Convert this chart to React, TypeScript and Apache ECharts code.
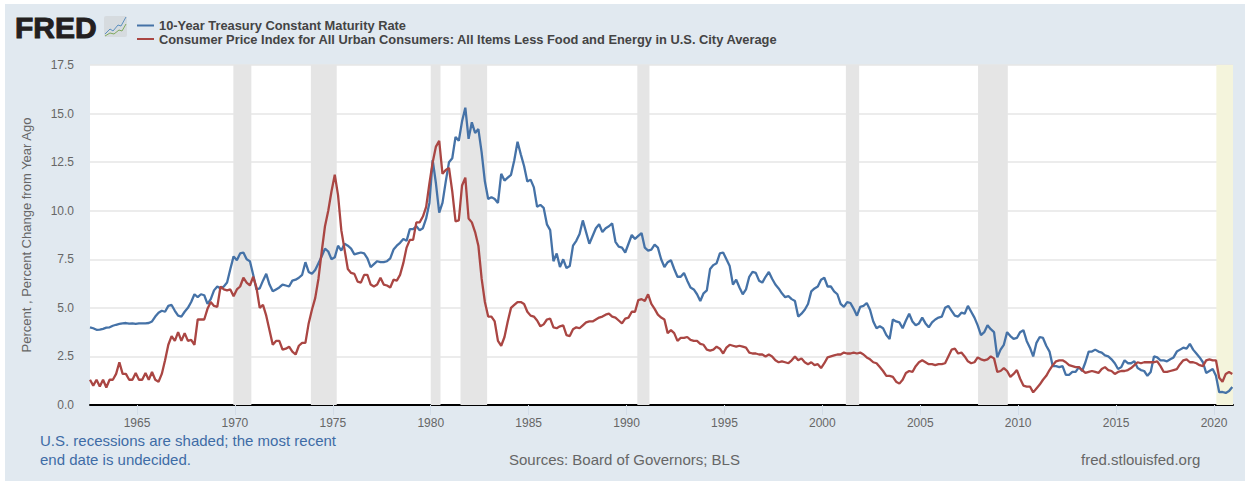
import React, { useEffect, useRef } from "react";
import * as echarts from "echarts";

const seriesStart = 1962.6;
const stepYears = 1 / 6;
const tickYears = [1965, 1970, 1975, 1980, 1985, 1990, 1995, 2000, 2005, 2010, 2015, 2020];

const treasury1960s = [
  4.0, 3.95, 3.87,
  3.88, 3.92, 3.98, 4.0, 4.08, 4.13,
  4.17, 4.2, 4.22, 4.19, 4.2, 4.18,
  4.2, 4.2, 4.2, 4.22, 4.3, 4.55,
  4.75, 4.85, 4.8, 5.1, 5.15, 4.85,
  4.6, 4.55, 4.8, 5.0, 5.3, 5.7,
  5.55, 5.7, 5.65, 5.2, 5.45, 5.9,
  6.1, 6.0, 6.1, 6.3, 7.0, 7.65,
];
const treasury1970s = [
  7.45, 7.8, 7.85, 7.5, 7.4, 6.7,
  5.95, 6.0, 6.4, 6.75, 6.2, 5.85,
  5.95, 6.05, 6.2, 6.15, 6.1, 6.4,
  6.45, 6.55, 6.7, 7.35, 6.85, 6.75,
  6.95, 7.3, 7.65, 8.05, 7.9, 7.5,
  7.6, 8.2, 7.95, 8.3, 8.2, 8.05,
  7.75, 7.8, 7.85, 7.8, 7.55, 7.1,
  7.25, 7.4, 7.35, 7.35, 7.4, 7.55,
  8.0, 8.2, 8.35, 8.55, 8.45, 9.05,
  9.05, 9.2, 9.0, 9.1, 9.6, 10.4,
];
const treasury1980s = [
  12.6, 11.4, 9.9, 10.4, 11.5, 12.5,
  12.7, 13.8, 13.6, 14.6, 15.3, 13.7,
  14.55, 14.0, 14.2, 13.0, 11.5, 10.6,
  10.7, 10.6, 10.4, 11.9, 11.55, 11.7,
  11.85, 12.6, 13.55, 12.9, 12.3, 11.5,
  11.6, 11.2, 10.2, 10.3, 10.15, 9.3,
  9.0, 7.4, 7.8, 7.1, 7.5, 7.05,
  7.15, 8.2, 8.45, 8.8, 9.5, 8.9,
  8.3, 8.7, 9.1, 9.3, 8.9, 9.1,
  9.2, 9.35, 8.4, 8.15, 8.1, 7.85,
];
const treasury1990s = [
  8.3, 8.75, 8.55, 8.7, 8.85, 8.1,
  7.95, 8.0, 8.25, 8.1, 7.5, 7.1,
  7.35, 7.45, 7.0, 6.6, 6.6, 6.8,
  6.4, 6.05, 5.95, 5.7, 5.35, 5.75,
  5.9, 7.0, 7.2, 7.3, 7.8, 7.85,
  7.5, 7.15, 6.2, 6.45, 6.05, 5.7,
  5.95, 6.6, 6.85, 6.8, 6.4, 6.3,
  6.6, 6.85, 6.5, 6.2, 6.0, 5.75,
  5.55, 5.6, 5.45, 5.35, 4.55, 4.7,
  4.9, 5.2, 5.85, 6.0, 6.1, 6.45,
];
const treasury2000s = [
  6.55, 6.1, 6.1, 5.85, 5.7, 5.2,
  5.05, 5.3, 5.25, 4.95, 4.6, 5.05,
  5.1, 5.25, 4.9, 4.3, 3.95, 4.05,
  3.95, 3.6, 3.4, 4.4, 4.3, 4.25,
  3.95, 4.35, 4.7, 4.3, 4.1, 4.2,
  4.5, 4.2, 4.0, 4.25, 4.4, 4.5,
  4.55, 5.0, 5.1, 4.85, 4.6, 4.55,
  4.75, 4.7, 5.1, 4.8, 4.5, 4.1,
  3.6, 3.75, 4.1, 3.9, 3.75, 2.45,
  2.85, 3.1, 3.75, 3.55, 3.4, 3.45,
];
const treasury2010s = [
  3.75, 3.85, 3.3, 2.95, 2.5, 3.2,
  3.5, 3.45, 3.05, 2.75, 2.0, 2.0,
  1.95, 2.0, 1.55, 1.55, 1.7, 1.7,
  1.95, 1.75, 2.2, 2.75, 2.75, 2.85,
  2.75, 2.7, 2.55, 2.5, 2.35, 2.15,
  1.85, 1.95, 2.3, 2.15, 2.15, 2.25,
  1.9, 1.8, 1.75, 1.5, 1.7, 2.5,
  2.45, 2.3, 2.3, 2.25, 2.35, 2.45,
  2.75, 2.85, 2.95, 2.9, 3.15, 2.85,
  2.65, 2.45, 2.2, 1.65, 1.75, 1.85,
  1.5, 0.66, 0.67, 0.62, 0.72, 0.93,
];

const cpi1960s = [
  1.3, 1.0, 1.3,
  0.95, 1.3, 0.9, 1.3, 1.3, 1.6,
  2.2, 1.6, 1.6, 1.3, 1.3, 1.65,
  1.3, 1.3, 1.65, 1.3, 1.7, 1.3,
  1.2, 1.6, 2.3, 3.1, 3.55, 3.3,
  3.75, 3.3, 3.7, 3.3, 3.35, 3.1,
  4.4, 4.4, 4.4, 4.95, 5.3, 5.1,
  5.05, 6.1, 5.95, 5.9, 5.95, 5.6,
];
const cpi1970s = [
  5.95, 6.1, 6.55, 6.3, 6.15, 6.6,
  6.05, 5.0, 5.15, 4.6, 3.85, 3.1,
  3.3, 3.3, 2.85, 2.9, 3.0, 2.75,
  2.6, 3.05, 3.2, 3.2, 4.2, 4.9,
  5.5, 6.5, 7.9, 9.2, 10.0, 11.0,
  11.85, 10.8, 9.0, 8.0, 7.0, 6.8,
  6.75, 6.35, 6.3, 6.7, 6.7, 6.2,
  6.1, 6.2, 6.55, 6.2, 6.15, 6.05,
  6.45, 6.4, 6.7, 7.3, 8.1, 8.5,
  8.5, 9.4, 9.4, 9.7, 10.2, 11.4,
];
const cpi1980s = [
  12.5, 13.3, 13.6, 11.9, 12.1, 12.2,
  11.0, 9.45, 9.5, 11.3, 11.7, 9.6,
  9.4, 8.9, 8.2, 6.5, 5.3, 4.55,
  4.55, 4.3, 3.3, 3.05, 3.5, 4.3,
  5.0, 5.15, 5.3, 5.3, 5.2, 4.8,
  4.6, 4.55, 4.35, 4.05, 4.15, 4.4,
  4.45, 4.0, 3.95, 4.05, 4.1, 3.6,
  3.55, 3.9, 4.0, 3.95, 4.1, 4.25,
  4.3, 4.3, 4.4, 4.5, 4.55, 4.65,
  4.7, 4.55, 4.5, 4.35, 4.2, 4.45,
];
const cpi1990s = [
  4.5, 4.8, 4.8, 5.4, 5.45, 5.35,
  5.7, 5.2, 4.95, 4.65, 4.5, 4.4,
  3.7, 3.85, 3.7, 3.3, 3.45, 3.45,
  3.5, 3.35, 3.3, 3.3, 3.15, 3.1,
  2.85, 2.8, 2.85, 3.0, 2.9, 2.65,
  2.95, 3.1, 3.05, 3.0, 3.05, 3.0,
  2.95, 2.7, 2.65, 2.65, 2.6, 2.6,
  2.5, 2.6, 2.5, 2.3, 2.2, 2.25,
  2.2, 2.15, 2.3, 2.5, 2.3, 2.4,
  2.2, 2.1, 2.2, 2.05, 2.1, 1.9,
];
const cpi2000s = [
  2.15, 2.45, 2.5, 2.55, 2.6, 2.6,
  2.7, 2.65, 2.65, 2.7, 2.65, 2.7,
  2.6, 2.45, 2.35, 2.2, 2.15, 1.95,
  1.75, 1.5, 1.5, 1.45, 1.2, 1.1,
  1.3, 1.65, 1.75, 1.7, 2.0, 2.2,
  2.3, 2.2, 2.1, 2.1, 2.05, 2.1,
  2.1, 2.15, 2.5, 2.85, 2.9, 2.65,
  2.7, 2.5, 2.25, 2.15, 2.2, 2.45,
  2.35, 2.3, 2.35, 2.5, 2.4, 1.7,
  1.75, 1.9, 1.75, 1.45, 1.6, 1.8,
];
const cpi2010s = [
  1.35, 1.0, 0.95, 0.95, 0.65, 0.85,
  1.05, 1.3, 1.5, 1.8, 2.05, 2.25,
  2.3, 2.3, 2.2, 2.05, 2.0, 1.95,
  1.95, 1.8, 1.65, 1.7, 1.75, 1.7,
  1.65, 1.85, 1.95, 1.8, 1.75, 1.6,
  1.7, 1.75, 1.75, 1.8, 1.9, 2.05,
  2.2, 2.15, 2.2, 2.2, 2.2, 2.2,
  2.25, 2.0, 1.7, 1.7, 1.75, 1.8,
  1.85, 2.1, 2.3, 2.35, 2.2, 2.2,
  2.15, 2.05, 2.0, 2.3, 2.35, 2.3,
  2.3, 1.4, 1.2, 1.6, 1.7, 1.6,
];

const recessions = [
  [1969.92, 1970.84],
  [1973.88, 1975.2],
  [1980.0, 1980.5],
  [1981.52, 1982.88],
  [1990.55, 1991.17],
  [2001.2, 2001.88],
  [2007.95, 2009.47],
];
const undecidedRecession = [2020.12, 2020.97];

const treasuryName = "10-Year Treasury Constant Maturity Rate";
const cpiName = "Consumer Price Index for All Urban Consumers: All Items Less Food and Energy in U.S. City Average";
const footnoteLines = "U.S. recessions are shaded; the most recent\nend date is undecided.";
const sourcesText = "Sources: Board of Governors; BLS";
const siteText = "fred.stlouisfed.org";
const yTitle = "Percent , Percent Change from Year Ago";

const FONT = '"Liberation Sans", Arial, Helvetica, sans-serif';

const toPoints = (values: number[]) => values.map((v, i) => [seriesStart + i * stepYears, v]);

export default function App() {
  const ref = useRef<HTMLDivElement>(null);
  useEffect(() => {
    document.body.style.margin = "0";
    const chart = echarts.init(ref.current!, undefined, { renderer: "svg" });
    const treasury = [...treasury1960s, ...treasury1970s, ...treasury1980s, ...treasury1990s, ...treasury2000s, ...treasury2010s];
    const cpi = [...cpi1960s, ...cpi1970s, ...cpi1980s, ...cpi1990s, ...cpi2000s, ...cpi2010s];
    chart.setOption({
      animation: false,
      backgroundColor: "#ffffff",
      textStyle: { fontFamily: FONT },
      grid: { left: 90, right: 12, top: 65, bottom: 76, show: true, backgroundColor: "#ffffff", borderWidth: 0 },
      legend: {
        left: 132,
        top: 14,
        orient: "vertical",
        icon: "rect",
        itemWidth: 17,
        itemHeight: 2,
        itemGap: 0.5,
        data: [treasuryName, cpiName],
        textStyle: { fontFamily: FONT, fontWeight: "bold", fontSize: 12.85, color: "#444444" },
      },
      xAxis: {
        type: "value",
        min: seriesStart,
        max: 2020.97,
        splitLine: { show: false },
        axisLine: { show: true, lineStyle: { color: "#000000", width: 2 } },
        axisTick: { show: true, length: 10, customValues: tickYears, lineStyle: { color: "#d3dde8", width: 1 } },
        axisLabel: {
          customValues: tickYears,
          margin: 12,
          fontSize: 12,
          color: "#666666",
          fontFamily: FONT,
          formatter: (v: number) => String(v),
        },
      },
      yAxis: {
        type: "value",
        min: 0,
        max: 17.5,
        interval: 2.5,
        name: yTitle,
        nameLocation: "middle",
        nameGap: 57,
        nameTextStyle: { color: "#666666", fontSize: 13, fontFamily: FONT },
        axisLine: { show: false },
        axisTick: { show: false },
        splitLine: { show: true, lineStyle: { color: "#e6e6e6", width: 1.5 } },
        axisLabel: { margin: 16, fontSize: 12, color: "#666666", fontFamily: FONT, formatter: (v: number) => v.toFixed(1) },
      },
      series: [
        {
          name: "Recessions",
          type: "line",
          data: [],
          z: 1,
          silent: true,
          markArea: {
            silent: true,
            itemStyle: { color: "#e5e5e5" },
            data: [
              ...recessions.map(([a, b]) => [{ xAxis: a }, { xAxis: b }]),
              [{ xAxis: undecidedRecession[0], itemStyle: { color: "#f4f4dc" } }, { xAxis: undecidedRecession[1] }],
            ],
          },
        },
        {
          name: treasuryName,
          type: "line",
          data: toPoints(treasury),
          symbol: "none",
          z: 3,
          lineStyle: { color: "#4572a7", width: 2.3 },
          itemStyle: { color: "#4572a7" },
        },
        {
          name: cpiName,
          type: "line",
          data: toPoints(cpi),
          symbol: "none",
          z: 4,
          lineStyle: { color: "#aa4643", width: 2.3 },
          itemStyle: { color: "#aa4643" },
        },
      ],
      graphic: [
        { type: "rect", z: -10, shape: { x: 5, y: 4, width: 1240, height: 477 }, style: { fill: "#e1e9f0" } },
        {
          type: "text",
          x: 15,
          y: 12,
          style: { text: "FRED", font: `bold 30px ${FONT}`, fill: "#231f20", stroke: "#231f20", lineWidth: 1 },
        },
        { type: "rect", x: 104, y: 16, shape: { width: 23, height: 21, r: 2 }, style: { fill: "#d6dbdf" } },
        {
          type: "polyline",
          shape: { points: [[105, 34], [110, 29], [113, 31], [118, 25], [121, 26], [126, 17]] },
          style: { stroke: "#5b8fbf", fill: "none", lineWidth: 1 },
        },
        {
          type: "polyline",
          shape: { points: [[105, 36], [110, 33], [114, 34], [119, 30], [122, 31], [126, 24]] },
          style: { stroke: "#7fa95e", fill: "none", lineWidth: 1 },
        },
        {
          type: "text",
          x: 40,
          y: 431,
          style: { text: footnoteLines, font: `15px ${FONT}`, lineHeight: 19, fill: "#3e6ca6" },
        },
        { type: "text", x: 509, y: 452, style: { text: sourcesText, font: `15px ${FONT}`, fill: "#666666" } },
        { type: "text", x: 1081, y: 452, style: { text: siteText, font: `15px ${FONT}`, fill: "#666666" } },
      ],
    });
    return () => chart.dispose();
  }, []);
  return <div ref={ref} style={{ width: 1245, height: 481 }} />;
}
